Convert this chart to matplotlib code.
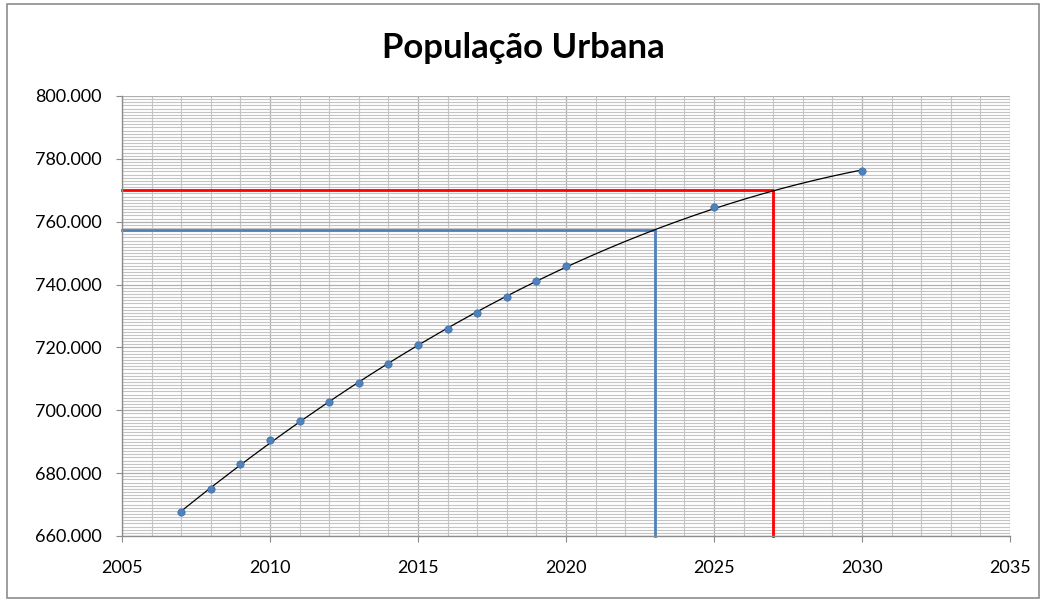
import numpy as np
import matplotlib
matplotlib.use("Agg")
import matplotlib.pyplot as plt
from matplotlib.ticker import MultipleLocator, FuncFormatter
from matplotlib.patches import Rectangle

years = [2007, 2008, 2009, 2010, 2011, 2012, 2013, 2014, 2015, 2016, 2017, 2018, 2019, 2020, 2025, 2030]
population = [667600, 675000, 682900, 690500, 696600, 702600, 708700, 714700, 720800, 725900,
              731000, 736000, 741100, 745900, 764700, 776200]
blue_ref = (2023, 757500)
red_ref = (2027, 770100)
title = "População Urbana"

plt.rcParams['font.family'] = ['Lato', 'DejaVu Sans']

fig = plt.figure(figsize=(10.46, 6.01), dpi=100)
ax = fig.add_axes([122/1046, 1-536/601, 888/1046, 440/601])

ax.set_xlim(2005, 2035)
ax.set_ylim(660000, 800000)

ax.xaxis.set_major_locator(MultipleLocator(5))
ax.xaxis.set_minor_locator(MultipleLocator(1))
ax.yaxis.set_major_locator(MultipleLocator(20000))
ax.yaxis.set_minor_locator(MultipleLocator(1000))
ax.yaxis.set_major_formatter(FuncFormatter(lambda v, p: f"{v:,.0f}".replace(",", ".")))

ax.grid(which='minor', axis='both', color='#c4c4c4', linewidth=0.8)
ax.grid(which='major', axis='both', color='#b0b0b0', linewidth=0.9)
ax.set_axisbelow(True)

for s in ['top', 'right']:
    ax.spines[s].set_visible(False)
for s in ['left', 'bottom']:
    ax.spines[s].set_color('#8c8c8c')
    ax.spines[s].set_linewidth(1.0)
ax.tick_params(which='major', direction='out', length=4.5, color='#8c8c8c', labelsize=13, pad=10)
ax.tick_params(axis='x', which='major', pad=13)
ax.tick_params(which='minor', length=0)

# trendline (2nd-order polynomial)
coef = np.polyfit(years, population, 2)
xt = np.linspace(years[0], years[-1], 200)
ax.plot(xt, np.polyval(coef, xt), color='black', linewidth=0.9, zorder=3)

# reference lines
ax.plot([2005, blue_ref[0], blue_ref[0]], [blue_ref[1], blue_ref[1], 660000],
        color='#4F81BD', linewidth=2, zorder=2, clip_on=False)
ax.plot([2005, red_ref[0], red_ref[0]], [red_ref[1], red_ref[1], 660000],
        color='#ff0000', linewidth=2, zorder=2, clip_on=False)

ax.scatter(years, population, s=28, color='#4F81BD', edgecolors='#3f6fa8', linewidths=0.5, zorder=4)

fig.text(0.5, 1-48/601, title, ha='center', va='center', fontsize=25, fontweight='bold')

fig.patches.append(Rectangle((7/1046, 3/601), 1032/1046, 594/601, transform=fig.transFigure,
                             fill=False, edgecolor='#8c8c8c', linewidth=1.2))

fig.savefig("out.png", dpi=100)
